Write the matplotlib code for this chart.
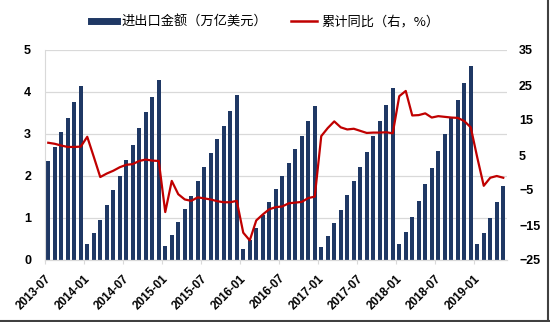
import numpy as np
import matplotlib
matplotlib.use('Agg')
import matplotlib.pyplot as plt
from matplotlib.lines import Line2D

plt.rcParams['font.family'] = ['Liberation Sans', 'Noto Sans CJK SC', 'DejaVu Sans']

# 进出口金额（万亿美元），按年累计
amt_2013 = [2.35, 2.69, 3.04, 3.38, 3.76, 4.15]
amt_2014 = [0.37, 0.64, 0.95, 1.31, 1.66, 2.00, 2.38, 2.75, 3.14, 3.52, 3.88, 4.28]
amt_2015 = [0.33, 0.60, 0.90, 1.22, 1.53, 1.87, 2.21, 2.54, 2.89, 3.20, 3.55, 3.94]
amt_2016 = [0.26, 0.47, 0.76, 1.07, 1.37, 1.68, 2.00, 2.32, 2.65, 2.96, 3.30, 3.67]
amt_2017 = [0.30, 0.56, 0.87, 1.20, 1.54, 1.88, 2.22, 2.58, 2.95, 3.30, 3.69, 4.09]
amt_2018 = [0.37, 0.67, 1.03, 1.41, 1.80, 2.19, 2.60, 3.00, 3.37, 3.82, 4.21, 4.61]
amt_2019 = [0.38, 0.65, 1.01, 1.38, 1.77]

# 累计同比（右，%）
yoy_2013 = [8.5, 8.2, 7.7, 7.3, 7.3, 7.4]
yoy_2014 = [10.2, 4.5, -1.3, -0.3, 0.5, 1.5, 2.2, 2.4, 3.3, 3.7, 3.4, 3.3]
yoy_2015 = [-11.3, -2.4, -6.2, -7.7, -8.1, -7.1, -7.4, -7.7, -8.2, -8.5, -8.5, -8.1]
yoy_2016 = [-17.2, -19.4, -13.7, -12.0, -10.5, -9.9, -9.7, -8.8, -8.6, -8.4, -7.3, -6.9]
yoy_2017 = [10.4, 12.7, 14.6, 12.9, 12.3, 12.5, 11.9, 11.3, 11.4, 11.4, 11.5, 11.2]
yoy_2018 = [21.8, 23.3, 16.3, 16.4, 16.9, 15.7, 16.1, 15.9, 15.7, 15.6, 14.7, 12.9]
yoy_2019 = [4.3, -3.8, -1.5, -1.0, -1.5]

tick_labels = ['2013-07', '2014-01', '2014-07', '2015-01', '2015-07', '2016-01',
               '2016-07', '2017-01', '2017-07', '2018-01', '2018-07', '2019-01']

amount = amt_2013 + amt_2014 + amt_2015 + amt_2016 + amt_2017 + amt_2018 + amt_2019
yoy = yoy_2013 + yoy_2014 + yoy_2015 + yoy_2016 + yoy_2017 + yoy_2018 + yoy_2019
x = np.arange(len(amount))

navy = '#1f3864'
red = '#c00000'
grid_c = '#d9d9d9'

fig = plt.figure(figsize=(5.5, 3.22), dpi=100)
ax = fig.add_axes([45/550, 1-260/322, 461.5/550, 210/322])
ax2 = ax.twinx()

ax.bar(x, amount, width=0.55, color=navy, zorder=2)
ax2.plot(x, yoy, color=red, lw=1.6, zorder=3)

ax.set_xlim(-0.5, len(amount) - 0.5)
ax.set_ylim(0, 5)
ax.set_yticks(range(0, 6))
ax2.set_ylim(-25, 35)
ax2.set_yticks(range(-25, 36, 10))
ax.grid(axis='y', color=grid_c, lw=0.9, zorder=0)
ax.set_axisbelow(True)

ax.set_xticks(np.arange(len(tick_labels)) * 6 - 0.5)
ax.set_xticklabels(tick_labels, rotation=45, ha='right', rotation_mode='anchor',
                   fontsize=8.5, fontweight='bold')
ax.tick_params(axis='x', length=3, color=grid_c, pad=6)
ax.tick_params(axis='y', length=0, pad=10, labelsize=9)
ax2.tick_params(axis='y', length=0, pad=9, labelsize=9)
for lab in ax.get_yticklabels() + ax2.get_yticklabels():
    lab.set_fontweight('bold')

for a in (ax, ax2):
    a.spines['top'].set_visible(False)
    a.spines['right'].set_visible(False)
    a.spines['left'].set_color(grid_c)
    a.spines['bottom'].set_color(grid_c)
ax2.spines['left'].set_visible(False)

handles = [Line2D([], [], color=navy, lw=5), Line2D([], [], color=red, lw=1.8)]
fig.legend(handles, ['进出口金额（万亿美元）', '累计同比（右，%）'],
           loc='center', bbox_to_anchor=(0.482, 1-22/322), ncol=2, frameon=False,
           prop={'family': ['Noto Sans CJK SC', 'DejaVu Sans'], 'size': 9.5},
           handlelength=2.0, handletextpad=0.3, columnspacing=1.8)

# screenshot frame on right and bottom
fig.add_artist(Line2D([0.997, 0.997], [0, 1], transform=fig.transFigure, color='#404040', lw=1.5))
fig.add_artist(Line2D([0, 1], [0.004, 0.004], transform=fig.transFigure, color='#404040', lw=1.5))

fig.savefig('out.png', dpi=100)
